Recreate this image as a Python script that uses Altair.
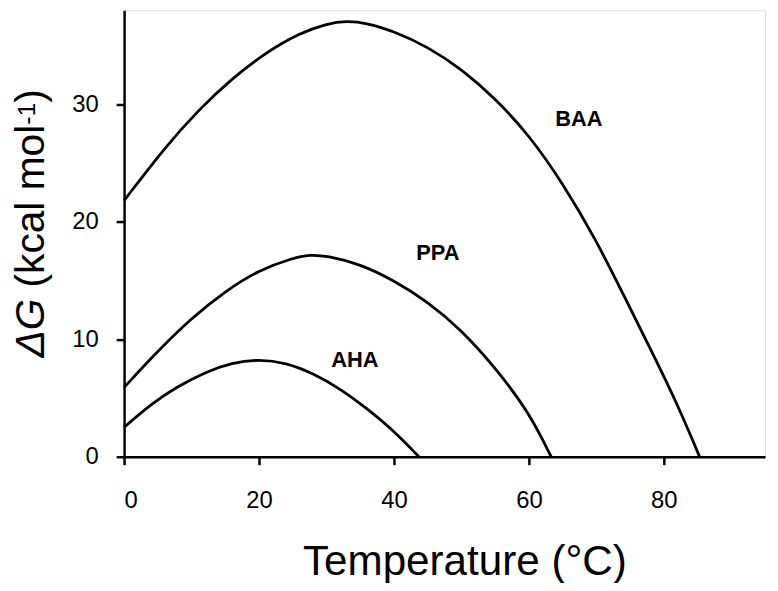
import altair as alt
import pandas as pd

# --- data ---
baa_t = [0, 6, 11, 16, 21, 26, 30, 33, 36, 40, 45, 50, 55, 60, 65, 70, 74, 78, 82, 85.3]
baa_g = [21.8, 26.3, 29.5, 32.2, 34.4, 36.05, 36.85, 37.1, 36.9, 36.2, 34.9, 33.0, 30.5, 27.4, 23.3, 18.4, 13.8, 9.2, 4.5, 0]

ppa_t = [0, 5, 10, 15, 20, 25, 27.5, 30, 35, 40, 45, 50, 55, 60, 63.3]
ppa_g = [5.9, 9.0, 11.8, 14.1, 15.9, 16.9, 17.2, 17.1, 16.4, 15.0, 13.2, 10.8, 7.6, 3.8, 0]

aha_t = [0, 4, 8, 12, 16, 20, 24, 28, 32, 36, 40, 43.7]
aha_g = [2.5, 4.5, 6.0, 7.2, 8.0, 8.3, 8.0, 7.1, 5.8, 4.1, 2.2, 0]

label_names = ["BAA", "PPA", "AHA"]
label_t = [67.4, 46.5, 34.2]
label_g = [28.7, 17.3, 8.2]

x_ticks = [0, 20, 40, 60, 80]
y_ticks = [0, 10, 20, 30]

rows = []
for name, ts, gs in [("BAA", baa_t, baa_g), ("PPA", ppa_t, ppa_g), ("AHA", aha_t, aha_g)]:
    for t, g in zip(ts, gs):
        rows.append({"series": name, "T": t, "G": g})
df = pd.DataFrame(rows)
labels = pd.DataFrame({"label": label_names, "T": label_t, "G": label_g})

FONT = "Liberation Sans"

xscale = alt.Scale(domain=[0, 95], nice=False, zero=False)
yscale = alt.Scale(domain=[0, 38], nice=False, zero=False)

x_axis = alt.Axis(
    values=x_ticks, grid=False, title="Temperature (°C)",
    titleX=343, titleY=119, titleBaseline="alphabetic", titleAlign="center",
    titleFontSize=42.5, titleFontWeight="normal", titleFont=FONT, titleColor="black",
    labelFontSize=24, labelFont=FONT, labelColor="black", labelPadding=24,
    tickSize=8, tickWidth=2.5, tickColor="black",
    domainColor="black", domainWidth=2.5,
)
y_axis = alt.Axis(
    values=y_ticks, grid=False, title="",
    labelFontSize=24, labelFont=FONT, labelColor="black", labelPadding=18,
    tickSize=8, tickWidth=2.5, tickColor="black",
    domainColor="black", domainWidth=2.5,
)

lines = alt.Chart(df).mark_line(
    color="black", strokeWidth=2.8, interpolate="basis"
).encode(
    x=alt.X("T:Q", scale=xscale, axis=x_axis),
    y=alt.Y("G:Q", scale=yscale, axis=y_axis),
    detail="series:N",
)

label_marks = alt.Chart(labels).mark_text(
    font=FONT, fontSize=22, fontWeight="bold", color="black",
    align="center", baseline="middle",
).encode(
    x=alt.X("T:Q", scale=xscale),
    y=alt.Y("G:Q", scale=yscale),
    text="label:N",
)

# y-axis title built from parts (italic ΔG, superscript -1)
def title_part(txt, x, y, size, style="normal"):
    return alt.Chart(alt.Data(values=[{"t": txt}])).mark_text(
        font=FONT, fontSize=size, fontStyle=style, color="black",
        angle=270, align="left", baseline="alphabetic",
    ).encode(x=alt.value(x), y=alt.value(y), text="t:N")

yt = [
    title_part("ΔG", -81, 350, 41, "italic"),
    title_part("(kcal mol", -81, 279.4, 41),
    title_part("-1", -90, 115.4, 25),
    title_part(")", -81, 93.2, 41),
]

chart = alt.layer(lines, label_marks, *yt).properties(
    width=646, height=450,
    autosize=alt.AutoSizeParams(type="none"),
    padding={"left": 117, "top": 0, "right": 5, "bottom": 125},
).configure_view(stroke=None).configure(font=FONT, background="white")

chart.save("out.html", embed_options={"renderer": "svg", "actions": False})
